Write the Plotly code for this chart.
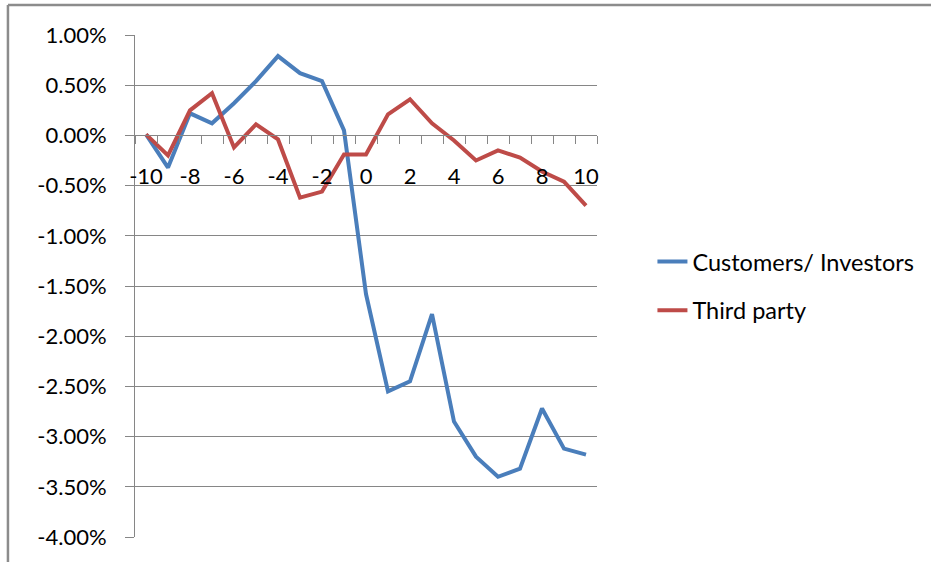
import plotly.graph_objects as go

# Event window (days relative to announcement)
days = list(range(-10, 11))

# Average abnormal returns, in percent
customers_investors = [0.01, -0.32, 0.22, 0.12, 0.32, 0.54, 0.79, 0.62, 0.54, 0.05,
                       -1.58, -2.55, -2.45, -1.78, -2.85, -3.20, -3.40, -3.32, -2.72, -3.12, -3.18]
third_party = [0.01, -0.20, 0.25, 0.42, -0.12, 0.11, -0.04, -0.62, -0.56, -0.19,
               -0.19, 0.21, 0.36, 0.12, -0.05, -0.25, -0.15, -0.22, -0.36, -0.46, -0.70]

x_tick_values = list(range(-10, 11, 2))
x_tick_labels = ["-10", "-8", "-6", "-4", "-2", "0", "2", "4", "6", "8", "10"]

y_tick_values = [1.0, 0.5, 0.0, -0.5, -1.0, -1.5, -2.0, -2.5, -3.0, -3.5, -4.0]
y_tick_labels = ["1.00%", "0.50%", "0.00%", "-0.50%", "-1.00%", "-1.50%",
                 "-2.00%", "-2.50%", "-3.00%", "-3.50%", "-4.00%"]

BLUE = "#4A7EBB"
RED = "#BE4B48"
GRID = "#868686"
FONT = "Lato, 'Liberation Sans', sans-serif"

fig = go.Figure()
fig.add_trace(go.Scatter(
    x=days, y=customers_investors, mode="lines",
    name="Customers/ Investors", line=dict(color=BLUE, width=4),
    legendgroup="a",
))
fig.add_trace(go.Scatter(
    x=days, y=third_party, mode="lines",
    name="Third party", line=dict(color=RED, width=4),
    legendgroup="b",
))

# Chart frame (top and left edges)
fig.add_shape(type="line", xref="paper", yref="paper",
              x0=-0.275, x1=2.0, y0=1.06, y1=1.06,
              line=dict(color="#8C8C8C", width=2.5))
fig.add_shape(type="line", xref="paper", yref="paper",
              x0=-0.275, x1=-0.275, y0=-0.2, y1=1.06,
              line=dict(color="#8C8C8C", width=2.5))

fig.update_layout(
    width=931, height=562,
    margin=dict(l=135, r=334, t=35, b=25),
    paper_bgcolor="white", plot_bgcolor="white",
    font=dict(family=FONT, size=22, color="#000000"),
    showlegend=True,
    legend=dict(
        x=1.12, y=0.592, xanchor="left", yanchor="top",
        traceorder="grouped", tracegroupgap=15,
        font=dict(family=FONT, size=23.5, color="#000000"),
        bgcolor="rgba(0,0,0,0)",
    ),
    xaxis=dict(
        range=[-10.5, 10.5],
        anchor="free", position=0.8,
        showline=True, linecolor=GRID, linewidth=1,
        showgrid=False, zeroline=False,
        tickmode="array", tickvals=x_tick_values, ticktext=x_tick_labels,
        ticks="", ticklabelstandoff=21,
        minor=dict(tickvals=[v + 0.5 for v in range(-11, 11)], ticks="outside",
                   ticklen=8, tickcolor=GRID, tickwidth=1, showgrid=False),
        fixedrange=True,
    ),
    yaxis=dict(
        range=[-4.0, 1.0],
        tickmode="array", tickvals=y_tick_values, ticktext=y_tick_labels,
        showline=True, linecolor=GRID, linewidth=1,
        showgrid=True, gridcolor=GRID, gridwidth=1,
        zeroline=False,
        ticks="outside", ticklen=9, tickcolor=GRID, tickwidth=1,
        ticklabelstandoff=14,
        fixedrange=True,
    ),
)

fig.write_html("out.html")
